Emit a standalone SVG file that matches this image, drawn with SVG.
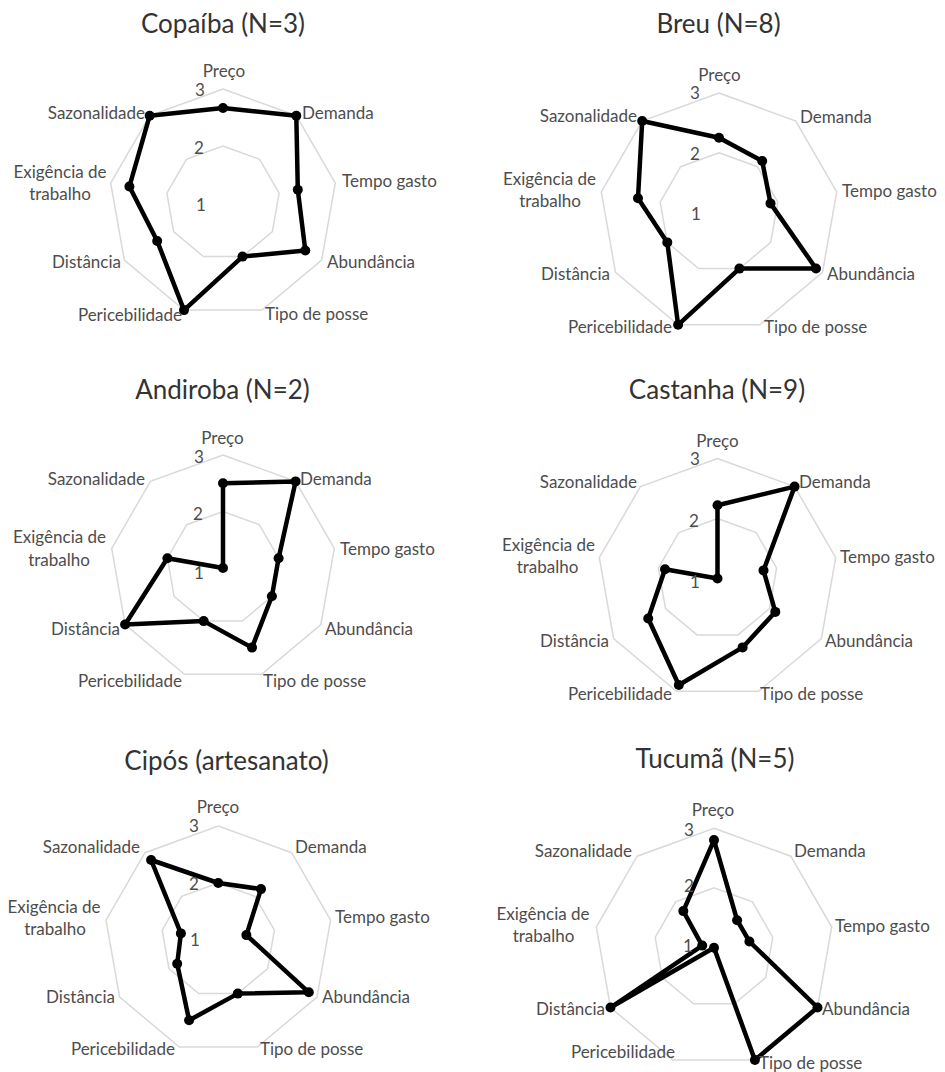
<svg xmlns="http://www.w3.org/2000/svg" width="945" height="1072" viewBox="0 0 945 1072">
<style>
.bg{fill:#fff}
.ring{fill:none;stroke:#d9d9d9;stroke-width:1.5;stroke-linejoin:miter}
.data{fill:none;stroke:#000;stroke-width:4.5;stroke-linejoin:round}
.mk{fill:#000}
.t{font-family:Lato,"Liberation Sans",sans-serif;font-size:26px;fill:#333;text-anchor:middle}
.l{font-family:Lato,"Liberation Sans",sans-serif;font-size:17px;fill:#4d4d4d}
.s{text-anchor:start}.e{text-anchor:end}.m{text-anchor:middle}
</style>
<rect class="bg" x="0" y="0" width="945" height="1072"/>

<g id="chart-copaiba">
<g transform="translate(223,203)">
<polygon class="ring" points="0,-114 73.3,-87.3 112.3,-19.8 98.7,57 39,107.1 -39,107.1 -98.7,57 -112.3,-19.8 -73.3,-87.3"/>
<polygon class="ring" points="0,-57 36.6,-43.7 56.1,-9.9 49.4,28.5 19.5,53.6 -19.5,53.6 -49.4,28.5 -56.1,-9.9 -36.6,-43.7"/>
<polygon class="data" points="0,-95 73.3,-87.3 74.8,-13.2 82.3,47.5 19.5,53.6 -39,107.1 -65.8,38 -93.6,-16.5 -73.3,-87.3"/>
<g class="mk"><circle cx="0" cy="-95" r="5"/><circle cx="73.3" cy="-87.3" r="5"/><circle cx="74.8" cy="-13.2" r="5"/><circle cx="82.3" cy="47.5" r="5"/><circle cx="19.5" cy="53.6" r="5"/><circle cx="-39" cy="107.1" r="5"/><circle cx="-65.8" cy="38" r="5"/><circle cx="-93.6" cy="-16.5" r="5"/><circle cx="-73.3" cy="-87.3" r="5"/></g>
</g>
<text class="t" x="223" y="33">Copaíba (N=3)</text>
<text class="l m" x="224" y="77">Preço</text>
<text class="l s" x="302" y="119">Demanda</text>
<text class="l s" x="342" y="187">Tempo gasto</text>
<text class="l s" x="327" y="268">Abundância</text>
<text class="l s" x="265" y="320">Tipo de posse</text>
<text class="l e" x="182" y="321">Pericebilidade</text>
<text class="l e" x="121" y="268">Distância</text>
<text class="l m" x="60" y="178">Exigência de</text>
<text class="l m" x="60" y="200">trabalho</text>
<text class="l e" x="145" y="119">Sazonalidade</text>
<text class="l m" x="200" y="96">3</text>
<text class="l m" x="199" y="154">2</text>
<text class="l m" x="201" y="211">1</text>
</g>

<g id="chart-breu">
<g transform="translate(719,212.5)">
<polygon class="ring" points="0,-119.5 76.8,-91.5 117.7,-20.7 103.5,59.8 40.9,112.3 -40.9,112.3 -103.5,59.8 -117.7,-20.7 -76.8,-91.5"/>
<polygon class="ring" points="0,-59.8 38.4,-45.8 58.8,-10.4 51.7,29.9 20.4,56.1 -20.4,56.1 -51.7,29.9 -58.8,-10.4 -38.4,-45.8"/>
<polygon class="data" points="0,-74.7 43.2,-51.5 51.5,-9.1 97,56 20.4,56.1 -40.9,112.3 -51.7,29.9 -81,-14.3 -76.8,-91.5"/>
<g class="mk"><circle cx="0" cy="-74.7" r="5"/><circle cx="43.2" cy="-51.5" r="5"/><circle cx="51.5" cy="-9.1" r="5"/><circle cx="97" cy="56" r="5"/><circle cx="20.4" cy="56.1" r="5"/><circle cx="-40.9" cy="112.3" r="5"/><circle cx="-51.7" cy="29.9" r="5"/><circle cx="-81" cy="-14.3" r="5"/><circle cx="-76.8" cy="-91.5" r="5"/></g>
</g>
<text class="t" x="718.5" y="33">Breu (N=8)</text>
<text class="l m" x="719.5" y="81">Preço</text>
<text class="l s" x="800" y="123">Demanda</text>
<text class="l s" x="842" y="197">Tempo gasto</text>
<text class="l s" x="827" y="280">Abundância</text>
<text class="l s" x="764" y="333">Tipo de posse</text>
<text class="l e" x="672" y="333">Pericebilidade</text>
<text class="l e" x="610" y="280">Distância</text>
<text class="l m" x="549.5" y="185">Exigência de</text>
<text class="l m" x="550" y="207">trabalho</text>
<text class="l e" x="637" y="122">Sazonalidade</text>
<text class="l m" x="695" y="99">3</text>
<text class="l m" x="695" y="160">2</text>
<text class="l m" x="696" y="220">1</text>
</g>

<g id="chart-andiroba">
<g transform="translate(223,568)">
<polygon class="ring" points="0,-113 72.6,-86.6 111.3,-19.6 97.9,56.5 38.6,106.2 -38.6,106.2 -97.9,56.5 -111.3,-19.6 -72.6,-86.6"/>
<polygon class="ring" points="0,-56.5 36.3,-43.3 55.6,-9.8 48.9,28.3 19.3,53.1 -19.3,53.1 -48.9,28.3 -55.6,-9.8 -36.3,-43.3"/>
<polygon class="data" points="0,-84.8 72.6,-86.6 55.6,-9.8 48.9,28.3 29,79.6 -19.3,53.1 -97.9,56.5 -55.6,-9.8 0,0"/>
<g class="mk"><circle cx="0" cy="-84.8" r="5"/><circle cx="72.6" cy="-86.6" r="5"/><circle cx="55.6" cy="-9.8" r="5"/><circle cx="48.9" cy="28.3" r="5"/><circle cx="29" cy="79.6" r="5"/><circle cx="-19.3" cy="53.1" r="5"/><circle cx="-97.9" cy="56.5" r="5"/><circle cx="-55.6" cy="-9.8" r="5"/><circle cx="0" cy="0" r="5"/></g>
</g>
<text class="t" x="222.5" y="399">Andiroba (N=2)</text>
<text class="l m" x="222.5" y="444">Preço</text>
<text class="l s" x="300" y="485">Demanda</text>
<text class="l s" x="340" y="555">Tempo gasto</text>
<text class="l s" x="325" y="635">Abundância</text>
<text class="l s" x="263" y="687">Tipo de posse</text>
<text class="l e" x="182" y="687">Pericebilidade</text>
<text class="l e" x="120" y="635">Distância</text>
<text class="l m" x="59.5" y="543">Exigência de</text>
<text class="l m" x="59" y="566">trabalho</text>
<text class="l e" x="145" y="485">Sazonalidade</text>
<text class="l m" x="199" y="463">3</text>
<text class="l m" x="198" y="520">2</text>
<text class="l m" x="199" y="579">1</text>
</g>

<g id="chart-castanha">
<g transform="translate(717.5,578.5)">
<polygon class="ring" points="0,-120 77.1,-91.9 118.2,-20.8 103.9,60 41,112.8 -41,112.8 -103.9,60 -118.2,-20.8 -77.1,-91.9"/>
<polygon class="ring" points="0,-60 38.6,-46 59.1,-10.4 52,30 20.5,56.4 -20.5,56.4 -52,30 -59.1,-10.4 -38.6,-46"/>
<polygon class="data" points="0,-73.3 77.1,-91.9 46,-8.1 57.8,33.4 25.1,68.9 -38.7,106.5 -69.3,40 -52.5,-9.3 0,0"/>
<g class="mk"><circle cx="0" cy="-73.3" r="5"/><circle cx="77.1" cy="-91.9" r="5"/><circle cx="46" cy="-8.1" r="5"/><circle cx="57.8" cy="33.4" r="5"/><circle cx="25.1" cy="68.9" r="5"/><circle cx="-38.7" cy="106.5" r="5"/><circle cx="-69.3" cy="40" r="5"/><circle cx="-52.5" cy="-9.3" r="5"/><circle cx="0" cy="0" r="5"/></g>
</g>
<text class="t" x="717" y="399">Castanha (N=9)</text>
<text class="l m" x="717.5" y="447">Preço</text>
<text class="l s" x="799" y="488">Demanda</text>
<text class="l s" x="840" y="563">Tempo gasto</text>
<text class="l s" x="825" y="647">Abundância</text>
<text class="l s" x="760" y="700">Tipo de posse</text>
<text class="l e" x="672" y="700">Pericebilidade</text>
<text class="l e" x="609" y="647">Distância</text>
<text class="l m" x="548.5" y="551">Exigência de</text>
<text class="l m" x="547.5" y="573">trabalho</text>
<text class="l e" x="637" y="488">Sazonalidade</text>
<text class="l m" x="695" y="465">3</text>
<text class="l m" x="694" y="527">2</text>
<text class="l m" x="695" y="588">1</text>
</g>

<g id="chart-cipos">
<g transform="translate(218.3,940)">
<polygon class="ring" points="0,-114 73.3,-87.3 112.3,-19.8 98.7,57 39,107.1 -39,107.1 -98.7,57 -112.3,-19.8 -73.3,-87.3"/>
<polygon class="ring" points="0,-57 36.6,-43.7 56.1,-9.9 49.4,28.5 19.5,53.6 -19.5,53.6 -49.4,28.5 -56.1,-9.9 -36.6,-43.7"/>
<polygon class="data" points="0,-57 42.7,-50.9 28.1,-4.9 90.5,52.3 19.5,53.6 -29.2,80.3 -41.1,23.8 -37.4,-6.6 -67.2,-80"/>
<g class="mk"><circle cx="0" cy="-57" r="5"/><circle cx="42.7" cy="-50.9" r="5"/><circle cx="28.1" cy="-4.9" r="5"/><circle cx="90.5" cy="52.3" r="5"/><circle cx="19.5" cy="53.6" r="5"/><circle cx="-29.2" cy="80.3" r="5"/><circle cx="-41.1" cy="23.8" r="5"/><circle cx="-37.4" cy="-6.6" r="5"/><circle cx="-67.2" cy="-80" r="5"/></g>
</g>
<text class="t" x="226.5" y="770">Cipós (artesanato)</text>
<text class="l m" x="218" y="813">Preço</text>
<text class="l s" x="295" y="853">Demanda</text>
<text class="l s" x="335" y="923">Tempo gasto</text>
<text class="l s" x="322" y="1003">Abundância</text>
<text class="l s" x="260" y="1055">Tipo de posse</text>
<text class="l e" x="175" y="1055">Pericebilidade</text>
<text class="l e" x="115" y="1003">Distância</text>
<text class="l m" x="54" y="913">Exigência de</text>
<text class="l m" x="55" y="935">trabalho</text>
<text class="l e" x="140" y="853">Sazonalidade</text>
<text class="l m" x="194" y="832">3</text>
<text class="l m" x="194" y="890">2</text>
<text class="l m" x="195" y="946">1</text>
</g>

<g id="chart-tucuma">
<g transform="translate(714,947.7)">
<polygon class="ring" points="0,-119.5 76.8,-91.5 117.7,-20.7 103.5,59.8 40.9,112.3 -40.9,112.3 -103.5,59.8 -117.7,-20.7 -76.8,-91.5"/>
<polygon class="ring" points="0,-59.8 38.4,-45.8 58.8,-10.4 51.7,29.9 20.4,56.1 -20.4,56.1 -51.7,29.9 -58.8,-10.4 -38.4,-45.8"/>
<polygon class="data" points="0,-107.6 23.1,-27.5 35.4,-6.2 103.5,59.8 40.9,112.3 0,0 -103.5,59.8 -11.8,-2.1 -30.7,-36.6"/>
<g class="mk"><circle cx="0" cy="-107.6" r="5"/><circle cx="23.1" cy="-27.5" r="5"/><circle cx="35.4" cy="-6.2" r="5"/><circle cx="103.5" cy="59.8" r="5"/><circle cx="40.9" cy="112.3" r="5"/><circle cx="0" cy="0" r="5"/><circle cx="-103.5" cy="59.8" r="5"/><circle cx="-11.8" cy="-2.1" r="5"/><circle cx="-30.7" cy="-36.6" r="5"/></g>
</g>
<text class="t" x="715" y="768">Tucumã (N=5)</text>
<text class="l m" x="713" y="816">Preço</text>
<text class="l s" x="794" y="857">Demanda</text>
<text class="l s" x="835" y="932">Tempo gasto</text>
<text class="l s" x="822" y="1015">Abundância</text>
<text class="l s" x="759" y="1069">Tipo de posse</text>
<text class="l e" x="675" y="1058">Pericebilidade</text>
<text class="l e" x="605" y="1015">Distância</text>
<text class="l m" x="543" y="920">Exigência de</text>
<text class="l m" x="543.5" y="942">trabalho</text>
<text class="l e" x="632" y="857">Sazonalidade</text>
<text class="l m" x="689" y="836">3</text>
<text class="l m" x="689" y="892">2</text>
<text class="l m" x="688" y="952">1</text>
</g>
</svg>
